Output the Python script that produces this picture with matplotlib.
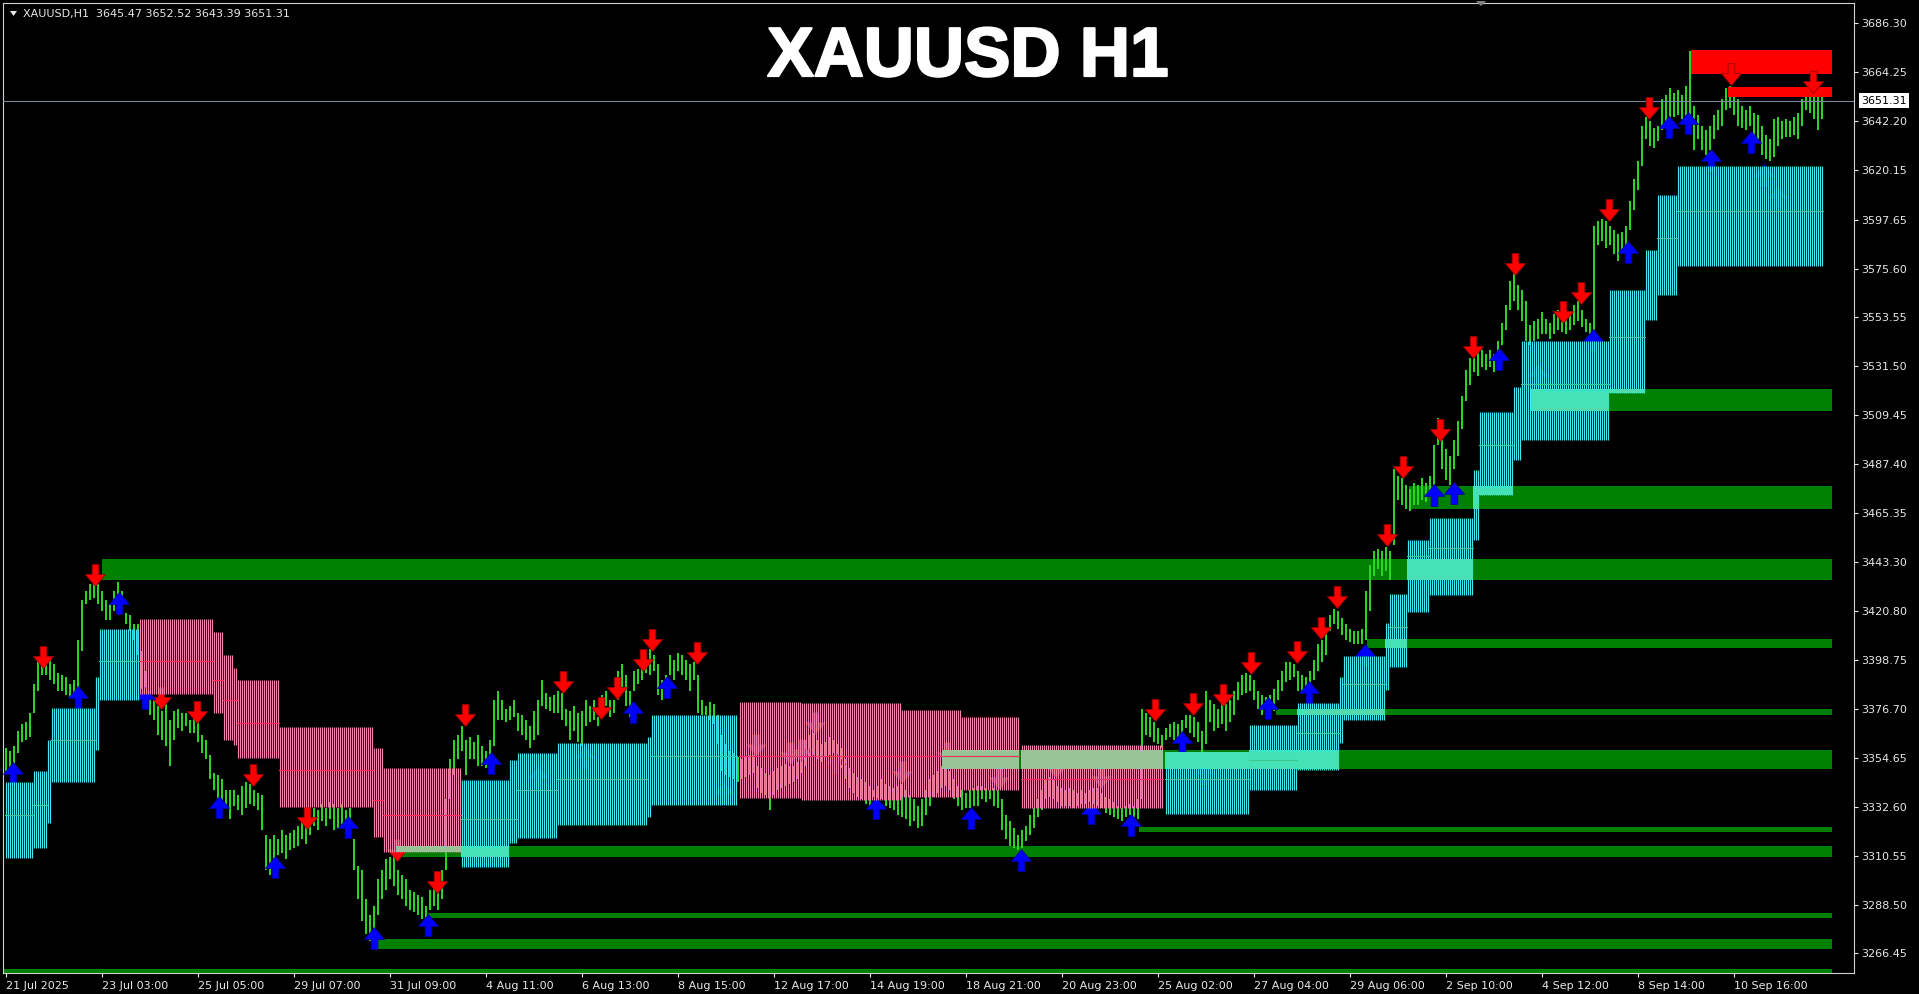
import numpy as np
import matplotlib
matplotlib.use("Agg")
import matplotlib.pyplot as plt
from matplotlib.path import Path
from matplotlib.patches import Rectangle, Polygon
from matplotlib.collections import LineCollection
import matplotlib.transforms as mtransforms
import matplotlib.patheffects as pe

# ---------------- data ----------------
SYMBOL = "XAUUSD,H1"
LAST_OHLC = [3645.47, 3652.52, 3643.39, 3651.31]
BID = 3651.31

TIME_LABELS = ["21 Jul 2025", "23 Jul 03:00", "25 Jul 05:00", "29 Jul 07:00", "31 Jul 09:00",
               "4 Aug 11:00", "6 Aug 13:00", "8 Aug 15:00", "12 Aug 17:00", "14 Aug 19:00",
               "18 Aug 21:00", "20 Aug 23:00", "25 Aug 02:00", "27 Aug 04:00", "29 Aug 06:00",
               "2 Sep 10:00", "4 Sep 12:00", "8 Sep 14:00", "10 Sep 16:00"]
BARS_PER_LABEL = 48

PRICE_TICKS = [3686.30, 3664.25, 3642.20, 3620.15, 3597.65, 3575.60, 3553.55, 3531.50,
               3509.45, 3487.40, 3465.35, 3443.30, 3420.80, 3398.75, 3376.70, 3354.65,
               3332.60, 3310.55, 3288.50, 3266.45]

# price bars (each entry = 2 hourly bars)
BAR_HIGH = [
    3359, 3358, 3360, 3367, 3370, 3371, 3375, 3388, 3398, 3399,
    3400, 3399, 3397, 3393, 3392, 3391, 3388, 3390, 3408, 3426,
    3430, 3433, 3434, 3433, 3430, 3426, 3424, 3430, 3434, 3430,
    3420, 3419, 3415, 3415, 3403, 3394, 3385, 3381, 3378, 3376,
    3379, 3372, 3376, 3377, 3375, 3375, 3372, 3373, 3371, 3365,
    3363, 3356, 3348, 3347, 3345, 3340, 3340, 3340, 3338, 3342,
    3344, 3343, 3340, 3339, 3338, 3320, 3318, 3320, 3318, 3322,
    3320, 3321, 3322, 3324, 3327, 3327, 3331, 3332, 3331, 3334,
    3332, 3335, 3334, 3332, 3334, 3331, 3332, 3318, 3306, 3304,
    3291, 3284, 3288, 3300, 3304, 3309, 3310, 3311, 3304, 3302,
    3300, 3295, 3294, 3293, 3292, 3288, 3295, 3296, 3294, 3304,
    3336, 3354, 3363, 3365, 3369, 3363, 3364, 3362, 3365, 3360,
    3358, 3363, 3381, 3385, 3381, 3377, 3378, 3381, 3375, 3374,
    3372, 3369, 3376, 3381, 3390, 3384, 3382, 3383, 3385, 3384,
    3377, 3376, 3378, 3375, 3376, 3381, 3378, 3381, 3373, 3383,
    3385, 3381, 3381, 3394, 3397, 3392, 3385, 3394, 3395, 3397,
    3403, 3404, 3401, 3397, 3390, 3392, 3401, 3399, 3402, 3401,
    3399, 3397, 3398, 3392, 3381, 3378, 3380, 3379, 3374, 3365,
    3361, 3358, 3357, 3355, 3354, 3355, 3356, 3356, 3351, 3350,
    3348, 3347, 3349, 3350, 3351, 3352, 3351, 3351, 3353, 3359,
    3363, 3365, 3366, 3363, 3361, 3362, 3364, 3363, 3361, 3359,
    3354, 3350, 3348, 3346, 3345, 3344, 3342, 3340, 3342, 3345,
    3343, 3342, 3341, 3342, 3343, 3340, 3338, 3336, 3333, 3336,
    3340, 3345, 3347, 3349, 3351, 3351, 3349, 3345, 3342, 3340,
    3339, 3340, 3341, 3342, 3342, 3341, 3340, 3341, 3340, 3336,
    3329, 3326, 3323, 3320, 3322, 3324, 3329, 3332, 3336, 3340,
    3345, 3346, 3345, 3342, 3341, 3340, 3341, 3340, 3339, 3340,
    3339, 3340, 3341, 3341, 3339, 3337, 3336, 3335, 3333, 3332,
    3333, 3334, 3333, 3336, 3377, 3375, 3373, 3371, 3368, 3365,
    3368, 3370, 3371, 3370, 3372, 3374, 3374, 3373, 3371, 3367,
    3385, 3381, 3379, 3377, 3380, 3379, 3381, 3385, 3389, 3392,
    3393, 3392, 3390, 3385, 3383, 3382, 3383, 3386, 3390, 3394,
    3398, 3398, 3397, 3394, 3392, 3391, 3394, 3399, 3406, 3408,
    3412, 3419, 3422, 3421, 3418, 3415, 3413, 3412, 3412, 3413,
    3430, 3442, 3448, 3449, 3448, 3450, 3448, 3485, 3482, 3481,
    3478, 3476, 3479, 3478, 3481, 3479, 3482, 3496, 3508, 3498,
    3494, 3491, 3498, 3507, 3518, 3530, 3535, 3540, 3538, 3539,
    3537, 3539, 3537, 3543, 3551, 3559, 3570, 3573, 3568, 3566,
    3561, 3550, 3552, 3553, 3556, 3553, 3551, 3555, 3557, 3555,
    3553, 3556, 3559, 3561, 3557, 3553, 3551, 3595, 3597, 3598,
    3597, 3595, 3593, 3591, 3592, 3595, 3606, 3616, 3624, 3640,
    3644, 3642, 3639, 3640, 3652, 3654, 3657, 3655, 3656, 3654,
    3658, 3674, 3649, 3645, 3640, 3638, 3640, 3645, 3647, 3652,
    3657, 3658, 3656, 3652, 3649, 3647, 3649, 3646, 3645, 3640,
    3636, 3634, 3643, 3644, 3642, 3643, 3642, 3644, 3646, 3652,
    3657, 3656, 3653, 3654, 3653]
BAR_LOW = [
    3348, 3347, 3351, 3357, 3362, 3363, 3364, 3375, 3385, 3392,
    3392, 3390, 3388, 3385, 3385, 3383, 3382, 3382, 3385, 3403,
    3424, 3426, 3427, 3424, 3421, 3417, 3417, 3421, 3425, 3422,
    3415, 3412, 3408, 3401, 3386, 3383, 3374, 3372, 3365, 3363,
    3360, 3351, 3363, 3368, 3367, 3369, 3366, 3366, 3362, 3357,
    3354, 3345, 3340, 3336, 3329, 3332, 3327, 3333, 3331, 3329,
    3332, 3334, 3333, 3331, 3322, 3304, 3302, 3307, 3311, 3312,
    3309, 3313, 3314, 3315, 3318, 3316, 3320, 3324, 3322, 3326,
    3324, 3327, 3322, 3323, 3324, 3321, 3322, 3304, 3291, 3281,
    3275, 3272, 3275, 3284, 3291, 3295, 3300, 3297, 3293, 3291,
    3288, 3286, 3285, 3284, 3282, 3282, 3286, 3288, 3286, 3291,
    3304, 3336, 3347, 3354, 3358, 3347, 3354, 3354, 3351, 3351,
    3350, 3354, 3360, 3372, 3372, 3371, 3372, 3373, 3367, 3365,
    3363, 3359, 3363, 3365, 3378, 3377, 3376, 3375, 3375, 3372,
    3369, 3363, 3367, 3362, 3360, 3369, 3371, 3372, 3369, 3375,
    3378, 3373, 3375, 3381, 3385, 3378, 3373, 3385, 3388, 3390,
    3393, 3392, 3394, 3383, 3381, 3385, 3392, 3390, 3394, 3392,
    3390, 3385, 3390, 3375, 3374, 3374, 3372, 3370, 3361, 3349,
    3347, 3346, 3345, 3344, 3345, 3346, 3347, 3348, 3341, 3339,
    3338, 3331, 3338, 3340, 3341, 3342, 3343, 3344, 3345, 3348,
    3351, 3355, 3356, 3354, 3353, 3355, 3356, 3357, 3353, 3350,
    3345, 3341, 3339, 3337, 3336, 3334, 3332, 3337, 3333, 3336,
    3333, 3332, 3331, 3329, 3328, 3327, 3324, 3326, 3323, 3324,
    3329, 3333, 3337, 3339, 3341, 3342, 3340, 3336, 3333, 3331,
    3332, 3332, 3333, 3333, 3336, 3335, 3336, 3333, 3332, 3322,
    3318, 3315, 3314, 3313, 3314, 3317, 3320, 3323, 3328, 3331,
    3336, 3337, 3336, 3335, 3333, 3333, 3333, 3332, 3333, 3334,
    3334, 3335, 3334, 3333, 3332, 3330, 3329, 3328, 3327, 3326,
    3328, 3329, 3328, 3327, 3336, 3365, 3364, 3362, 3361, 3359,
    3363, 3364, 3363, 3364, 3366, 3368, 3366, 3364, 3362, 3357,
    3361, 3371, 3367, 3368, 3370, 3367, 3371, 3374, 3381, 3383,
    3384, 3385, 3381, 3377, 3374, 3373, 3375, 3376, 3381, 3385,
    3389, 3390, 3391, 3385, 3385, 3384, 3386, 3390, 3394, 3398,
    3401, 3412, 3415, 3413, 3410, 3408, 3407, 3406, 3406, 3406,
    3408, 3421, 3437, 3440, 3437, 3439, 3435, 3451, 3471, 3469,
    3467, 3466, 3469, 3469, 3471, 3470, 3473, 3478, 3496, 3485,
    3480, 3478, 3485, 3491, 3503, 3516, 3523, 3529, 3527, 3531,
    3530, 3531, 3529, 3534, 3541, 3548, 3557, 3561, 3557, 3552,
    3543, 3541, 3543, 3544, 3546, 3546, 3544, 3546, 3548, 3547,
    3546, 3548, 3550, 3552, 3549, 3547, 3546, 3548, 3586, 3588,
    3585, 3586, 3582, 3579, 3583, 3585, 3593, 3602, 3611, 3622,
    3634, 3631, 3630, 3633, 3638, 3640, 3643, 3644, 3645, 3643,
    3640, 3645, 3629, 3634, 3629, 3627, 3629, 3634, 3638, 3640,
    3647, 3648, 3645, 3640, 3639, 3638, 3640, 3636, 3634, 3627,
    3625, 3624, 3626, 3631, 3634, 3635, 3635, 3636, 3634, 3640,
    3647, 3646, 3643, 3638, 3643]

# support zones (green): start bar, top, bottom
ZONE_START = [48.3, 762.5, 701.5, 680.5, 635, 468, 566.5, 195, 211, 183, -2]
ZONE_TOP = [3444.5, 3521.2, 3477.4, 3408.4, 3376.8, 3358.3, 3323.5, 3315.0, 3284.7, 3272.9, 3259.4]
ZONE_BOTTOM = [3435.0, 3511.3, 3467.0, 3404.3, 3374.1, 3349.7, 3321.2, 3310.0, 3282.4, 3268.4, 3256.2]
ZONE_END = 913

# resistance zones (red)
RZONE_START = [842.5, 861]
RZONE_TOP = [3674.2, 3657.5]
RZONE_BOTTOM = [3663.5, 3653.0]

# trend cloud segments
C_KIND = ["up"] * 6 + ["dn"] * 8 + ["up"] * 6 + ["dn"] * 5 + ["up"] * 17
C_START = [0, 14, 21, 23, 45, 47,
           67, 104, 109, 114, 116, 137, 184, 189,
           228, 252, 256, 276, 321, 323,
           367, 398, 448, 478, 508,
           580, 622, 646, 667, 669, 690, 692, 701, 712, 734, 737, 754, 758, 802, 820, 826, 836]
C_END = [13, 20, 22, 44, 46, 66,
         103, 108, 113, 115, 136, 183, 188, 227,
         251, 255, 275, 320, 322, 365,
         397, 447, 477, 506, 578,
         621, 645, 666, 668, 689, 691, 700, 711, 733, 736, 753, 757, 801, 819, 825, 835, 908]
C_TOP = [3343.8, 3348.8, 3362.8, 3377.2, 3391.2, 3412.9,
         3417.4, 3411.5, 3401.1, 3395.3, 3389.9, 3368.6, 3359.2, 3350.1,
         3344.7, 3353.7, 3356.9, 3361.4, 3364.1, 3374.0,
         3379.9, 3379.5, 3376.3, 3373.1, 3360.5,
         3357.3, 3369.5, 3379.5, 3391.2, 3400.7, 3415.6, 3428.7, 3453.0, 3463.0, 3484.6,
         3510.8, 3522.1, 3542.9, 3565.9, 3584.0, 3608.8, 3621.9]
C_BOT = [3309.5, 3314.0, 3325.3, 3343.8, 3358.3, 3380.8,
         3383.5, 3375.0, 3362.8, 3360.5, 3354.6, 3332.5, 3319.0, 3312.2,
         3305.4, 3316.3, 3318.5, 3324.4, 3328.0, 3333.4,
         3336.6, 3335.7, 3337.0, 3340.2, 3332.1,
         3329.4, 3340.2, 3349.2, 3361.4, 3371.8, 3385.3, 3395.7, 3420.5, 3428.2, 3453.0,
         3473.4, 3489.2, 3498.2, 3519.4, 3552.4, 3563.6, 3576.7]
C_MID = [3328.9, 3333.4, None, 3362.8, None, 3398.4,
         3398.4, 3389.9, 3380.8, 3380.8, 3370.4, 3349.2, 3335.7, 3328.9,
         3327.1, 3327.1, 3340.2, 3345.2, None, 3355.5,
         3355.5, 3355.5, 3355.5, 3355.5, 3345.2,
         3345.2, 3353.7, 3365.9, None, 3388.0, None, 3413.8, 3445.8, 3449.4, None,
         3495.9, None, 3523.5, 3544.7, None, 3589.4, 3601.6]

# signal arrows: bar index, price
SELL_X = [18.5, 44.5, 77.5, 95.5, 123.5, 150.5, 195.5, 215.5, 229.5, 278.5,
          297.5, 305.5, 318.5, 323, 345.5, 375, 392, 397.5, 404.5, 448,
          470.5, 496.5, 525, 547.5, 574.5, 593.5, 608.5, 622.5, 645.5, 657.5,
          665.5, 690.5, 698.5, 717, 733.5, 754.5, 778.5, 787.5, 801.5, 821.5,
          862.5, 903.5]
SELL_Y = [3400.2, 3437.2, 3381.7, 3375.4, 3347.0, 3327.6, 3313.1, 3298.7, 3374.1, 3389.0,
          3377.2, 3386.2, 3398.9, 3407.9, 3402.0, 3360.5, 3356.9, 3358.3, 3370.4, 3348.3,
          3356.9, 3345.6, 3350.6, 3346.1, 3376.3, 3379.0, 3383.1, 3397.5, 3402.5, 3413.3,
          3427.3, 3455.3, 3486.0, 3502.7, 3540.2, 3577.6, 3556.0, 3564.5, 3602.0, 3648.0,
          3663.4, 3659.8]
BUY_X = [3.5, 36, 56.5, 69.5, 106.5, 134.5, 171, 184, 211, 242.5,
         266, 289.5, 313.5, 330.5, 359, 414.5, 435, 482.5, 507.5, 542.5,
         562.5, 588, 599, 631, 651.5, 679.5, 714, 724, 746.5, 766,
         793.5, 811, 831.5, 841, 852.5, 872.5, 879, 886]
BUY_Y = [3347.9, 3382.2, 3424.6, 3381.7, 3332.5, 3305.4, 3323.5, 3273.4, 3279.3, 3352.4,
         3346.1, 3355.1, 3375.4, 3386.7, 3338.8, 3352.4, 3332.1, 3327.6, 3308.6, 3329.8,
         3324.4, 3361.9, 3347.9, 3377.2, 3384.4, 3401.1, 3473.4, 3474.3, 3534.7, 3527.5,
         3543.3, 3583.0, 3639.5, 3641.3, 3624.6, 3632.7, 3617.8, 3607.9]

# ---------------- styling ----------------
PRICE_COLOR = "#2AD424"
ZONE_COLOR = "#008000"
RZONE_COLOR = "#FF0000"
CLOUD_COLOR = {"up": "#40E6F2", "dn": "#F683AE"}
MID_COLOR = {"up": "#3CC890", "dn": "#FF3355"}
OVERLAP_COLOR = {"up": "#44E2B4", "dn": "#98C498"}
FG = "#E8E8E8"

W, H = 1919, 994
fig = plt.figure(figsize=(W / 100, H / 100), dpi=100, facecolor="black")
ax = fig.add_axes([3 / W, 21 / H, 1851 / W, 970 / H])
ax.set_facecolor("black")
ax.set_xlim(-1.25, 924.25)
ax.set_ylim(3257.61, 3695.46)

# zones
for s, t, b in zip(ZONE_START, ZONE_TOP, ZONE_BOTTOM):
    ax.add_patch(Rectangle((s, b), ZONE_END - s, t - b, facecolor=ZONE_COLOR,
                           edgecolor="none", antialiased=False, zorder=1))
for s, t, b in zip(RZONE_START, RZONE_TOP, RZONE_BOTTOM):
    ax.add_patch(Rectangle((s, b), ZONE_END - s, t - b, facecolor=RZONE_COLOR,
                           edgecolor="none", antialiased=False, zorder=2.2))

# price bars
xs = [2 * j + 0.25 for j in range(len(BAR_HIGH))]
segs = [[(x, lo), (x, hi)] for x, lo, hi in zip(xs, BAR_LOW, BAR_HIGH)]
ax.add_collection(LineCollection(segs, colors=PRICE_COLOR, linewidths=1.44,
                                 antialiaseds=False, zorder=2))

# bid line
ax.axhline(BID, color="#7A8899", lw=0.8, zorder=2.6)

# arrows
down_verts = [(-2.9, 9.5), (2.9, 9.5), (2.9, 0.8), (8.8, 0.8), (0, -9.5), (-8.8, 0.8),
              (-2.9, 0.8), (-2.9, 9.5)]
down_path = Path(down_verts, closed=True)
up_path = Path([(x, -y) for x, y in down_verts], closed=True)
ax.scatter(SELL_X, SELL_Y, marker=down_path, s=245, c="#FF0000", edgecolors="#A00000",
           linewidths=0.6, zorder=3)
ax.scatter(BUY_X, BUY_Y, marker=up_path, s=245, c="#0000FF", edgecolors="#0000A0",
           linewidths=0.6, zorder=3)

# clouds
for kind in ("up", "dn"):
    csegs = []
    for k, s, e, t, b in zip(C_KIND, C_START, C_END, C_TOP, C_BOT):
        if k != kind:
            continue
        for i in range(s, e + 1):
            csegs.append([(i, b), (i, t)])
    ax.add_collection(LineCollection(csegs, colors=CLOUD_COLOR[kind], linewidths=0.85,
                                     antialiaseds=True, zorder=4))

# overlap of clouds with support zones
for k, s, e, t, b in zip(C_KIND, C_START, C_END, C_TOP, C_BOT):
    for zs, zt, zb in zip(ZONE_START, ZONE_TOP, ZONE_BOTTOM):
        x0 = max(s - 0.5, zs)
        x1 = min(e + 0.5, ZONE_END)
        y0 = max(b, zb)
        y1 = min(t, zt)
        if x1 > x0 and y1 > y0:
            ax.add_patch(Rectangle((x0, y0), x1 - x0, y1 - y0, facecolor=OVERLAP_COLOR[k],
                                   edgecolor="none", antialiased=False, zorder=4.5))

# cloud mid lines
for k, s, e, m in zip(C_KIND, C_START, C_END, C_MID):
    if m is None:
        continue
    ax.plot([s - 0.5, e + 0.5], [m, m], color=MID_COLOR[k], lw=0.8, zorder=5)

# axes styling
for sp in ax.spines.values():
    sp.set_color("#D0D0D0")
    sp.set_linewidth(0.8)
ax.yaxis.tick_right()
ax.set_yticks(PRICE_TICKS)
ax.set_yticklabels([f"{v:.2f}" for v in PRICE_TICKS])
ax.tick_params(axis="y", colors=FG, labelcolor=FG, labelsize=8, length=3, width=0.8, pad=2.5)
ticks_x = [BARS_PER_LABEL * k for k in range(len(TIME_LABELS))]
ax.set_xticks(ticks_x)
ax.set_xticklabels(TIME_LABELS)
ax.tick_params(axis="x", colors=FG, labelcolor=FG, labelsize=8, length=3, width=0.8, pad=3)
for lab in ax.get_xticklabels():
    lab.set_horizontalalignment("left")

# bid price box
trans = mtransforms.blended_transform_factory(ax.transAxes, ax.transData)
ax.text((1861 - 3) / 1851, BID, f"{BID:.2f}", transform=trans, fontsize=8, color="black",
        va="center", ha="left", clip_on=False, zorder=10,
        bbox=dict(boxstyle="square,pad=0.22", facecolor="white", edgecolor="none"))

# header text
fig.text(22.7 / W, 1 - 13.5 / H,
         f"{SYMBOL}  " + " ".join(f"{v:.2f}" for v in LAST_OHLC),
         fontsize=8, color=FG, va="center", ha="left")
fig.add_artist(Polygon([[10 / W, 1 - 11 / H], [17 / W, 1 - 11 / H], [13.5 / W, 1 - 16 / H]],
                       closed=True, transform=fig.transFigure, facecolor=FG, edgecolor="none"))
fig.add_artist(Polygon([[1476 / W, 1 - 1 / H], [1486 / W, 1 - 1 / H], [1481 / W, 1 - 6 / H]],
                       closed=True, transform=fig.transFigure, facecolor="#808080",
                       edgecolor="none"))

# title
fig.text(968 / W, 1 - 76 / H, "XAUUSD H1", fontsize=50, fontweight="bold",
         family="Liberation Sans", color="white", ha="center", va="baseline",
         path_effects=[pe.withStroke(linewidth=1.6, foreground="white")])

fig.savefig("out.png", dpi=100, facecolor="black")
